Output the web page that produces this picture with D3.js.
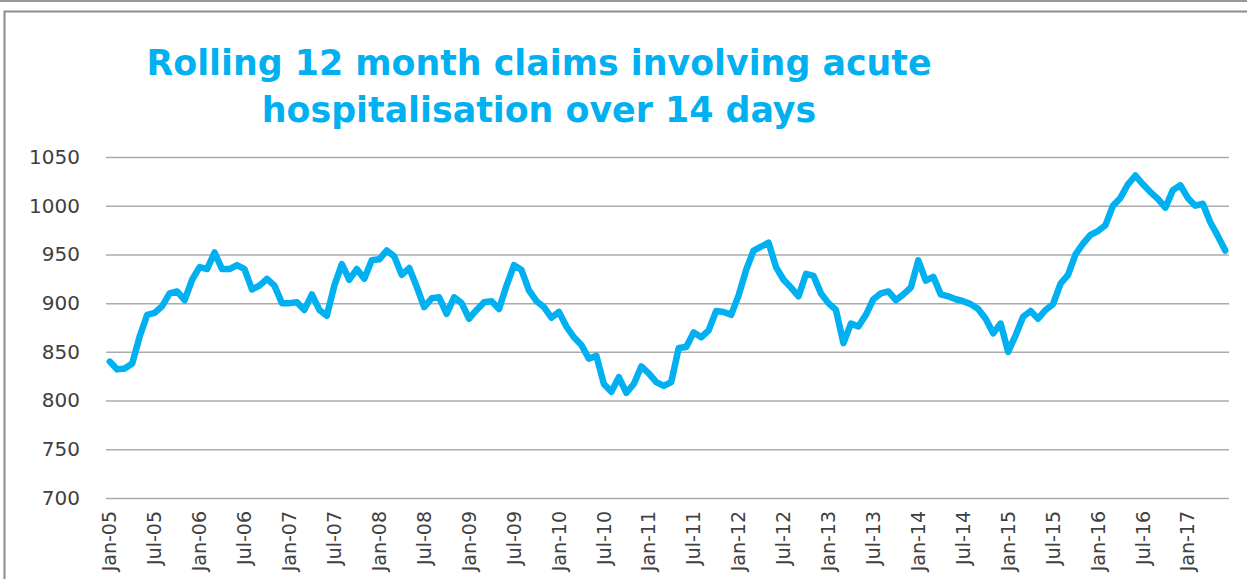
<!DOCTYPE html>
<html>
<head>
<meta charset="utf-8">
<script src="https://cdn.jsdelivr.net/npm/d3@7"></script>
<style>
  html, body { margin: 0; padding: 0; background: #fff; }
  #chart { width: 1247px; height: 579px; }
</style>
</head>
<body>
<div id="chart"></div>
<script>
// Monthly categories Jan-05 .. Jun-17
const months = d3.timeMonths(new Date(2005, 0, 1), new Date(2017, 6, 1));
const fmtMonth = d3.timeFormat("%b-%y");

const claims = [
  840, 832, 833, 838, 866, 888, 890, 897, 910, 912, 903, 924,
  937, 935, 952, 935, 935, 939, 935, 914, 918, 925, 918, 900,
  900, 901, 893, 909, 893, 887, 918, 940, 924, 935, 925, 944,
  945, 954, 948, 929, 936, 917, 896, 905, 906, 889, 906, 900,
  884, 893, 901, 902, 894, 918, 939, 934, 913, 902, 896, 885,
  891, 876, 865, 857, 843, 846, 817, 809, 824, 808, 817, 835,
  828, 819, 815, 819, 854, 855, 870, 865, 872, 892, 891, 888,
  908, 934, 954, 958, 962, 937, 924, 916, 907, 930, 928, 910,
  900, 893, 859, 879, 876, 888, 904, 910, 912, 903, 909, 916,
  944, 923, 927, 909, 907, 904, 902, 899, 894, 884, 869, 879,
  850, 867, 886, 892, 884, 893, 899, 920, 929, 950, 961, 970,
  974, 980, 1000, 1008, 1022, 1031, 1022, 1014, 1007, 998, 1016, 1021,
  1008, 1000, 1002, 983, 969, 954
];

const yTicks = [700, 750, 800, 850, 900, 950, 1000, 1050];
const titleLines = ["Rolling 12 month claims involving acute", "hospitalisation over 14 days"];

const blue = "#00B0F0";

function drawChart() {
  const w = 1247, h = 579;
  const plot = { left: 106, right: 1229, top: 157, bottom: 498 };

  const svg = d3.select("#chart").append("svg")
    .attr("width", w)
    .attr("height", h);

  // frame
  svg.append("line")
    .attr("x1", 0).attr("x2", w).attr("y1", 1).attr("y2", 1)
    .attr("stroke", "#9a9a9a").attr("stroke-width", 2);
  svg.append("rect")
    .attr("x", 4.5).attr("y", 11.5).attr("width", w + 10).attr("height", h + 10)
    .attr("fill", "none").attr("stroke", "#8c8c8c").attr("stroke-width", 2);

  const labels = months.map(fmtMonth);

  const x = d3.scaleBand()
    .domain(labels)
    .range([plot.left, plot.right])
    .padding(0);

  const y = d3.scaleLinear()
    .domain([700, 1050])
    .range([plot.bottom, plot.top]);

  // gridlines + y labels
  const yAxis = svg.append("g")
    .attr("transform", `translate(${plot.left},0)`)
    .call(d3.axisLeft(y).tickValues(yTicks).tickFormat(d3.format("d"))
      .tickSize(-(plot.right - plot.left)).tickPadding(26));
  yAxis.select(".domain").remove();
  yAxis.selectAll(".tick line").attr("stroke", "#ababab").attr("stroke-width", 1.5);
  yAxis.selectAll(".tick text")
    .attr("fill", "#404040")
    .attr("font-family", "'DejaVu Sans', sans-serif")
    .attr("font-size", "20px");

  // x labels every 6 months
  const xAxis = svg.append("g")
    .attr("transform", `translate(0,${plot.bottom})`)
    .call(d3.axisBottom(x).tickValues(labels.filter((d, i) => i % 6 === 0)).tickSize(0).tickPadding(0));
  xAxis.select(".domain").remove();
  xAxis.selectAll(".tick text")
    .attr("fill", "#404040")
    .attr("font-family", "'DejaVu Sans', sans-serif")
    .attr("font-size", "19px")
    .attr("text-anchor", "end")
    .attr("dy", "0.35em")
    .attr("transform", "translate(0,13) rotate(-90)");

  const line = d3.line()
    .x((d, i) => x(labels[i]) + x.bandwidth() / 2)
    .y(d => y(d));

  svg.append("path")
    .datum(claims)
    .attr("d", line)
    .attr("fill", "none")
    .attr("stroke", blue)
    .attr("stroke-width", 6.5)
    .attr("stroke-linejoin", "round")
    .attr("stroke-linecap", "round");

  // Title
  svg.selectAll(".title")
    .data(titleLines)
    .enter()
    .append("text")
    .attr("class", "title")
    .attr("x", 539)
    .attr("y", (d, i) => 75 + i * 47)
    .attr("text-anchor", "middle")
    .attr("fill", blue)
    .attr("font-family", "'DejaVu Sans', sans-serif")
    .attr("font-weight", "bold")
    .attr("font-size", "34.8px")
    .text(d => d);
}

drawChart();
</script>
</body>
</html>
